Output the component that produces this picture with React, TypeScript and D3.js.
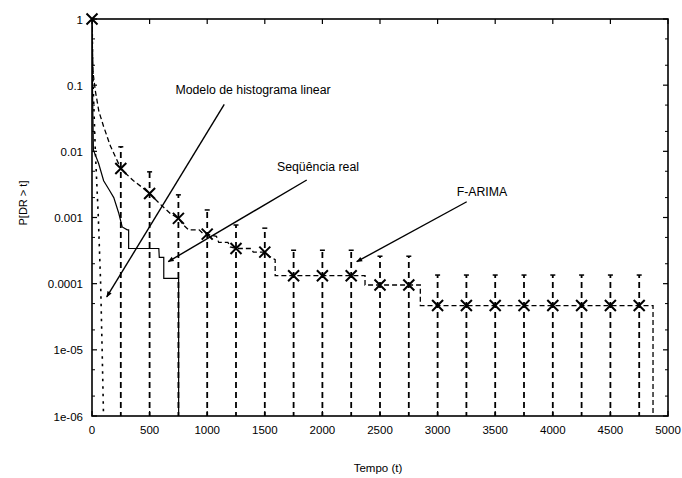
import React from "react";
import * as d3 from "d3";

// ---------- data ----------
const xTicks = [0, 500, 1000, 1500, 2000, 2500, 3000, 3500, 4000, 4500, 5000];
const yTicks = [1, 0.1, 0.01, 0.001, 0.0001, 1e-5, 1e-6];
const yTickLabels = ["1", "0.1", "0.01", "0.001", "0.0001", "1e-05", "1e-06"];

// F-ARIMA markers (t, P)
const markerT = [0, 250, 500, 750, 1000, 1250, 1500, 1750, 2000, 2250, 2500, 2750, 3000, 3250, 3500, 3750, 4000, 4250, 4500, 4750];
const markerP = [1, 0.0055, 0.0023, 0.00097, 0.00056, 0.00034, 0.0003, 0.000132, 0.000132, 0.000132, 0.0000955, 0.0000955,
  0.0000467, 0.0000467, 0.0000467, 0.0000467, 0.0000467, 0.0000467, 0.0000467, 0.0000467];

// F-ARIMA error bar upper limits (t = 250 .. 4750)
const errT = [250, 500, 750, 1000, 1250, 1500, 1750, 2000, 2250, 2500, 2750, 3000, 3250, 3500, 3750, 4000, 4250, 4500, 4750];
const errUpper = [0.0117, 0.0049, 0.0022, 0.0013, 0.00077, 0.00069, 0.00032, 0.00032, 0.00032, 0.00026, 0.00026,
  0.000135, 0.000135, 0.000135, 0.000135, 0.000135, 0.000135, 0.000135, 0.000135];

// F-ARIMA curve (dashed)
const farimaT = [0, 3, 10, 30, 60, 100, 160, 200, 250, 300, 360, 430, 500, 590, 680, 750, 800, 840, 930, 960, 1000, 1080, 1100, 1180, 1200, 1250, 1380, 1400, 1500, 1540, 1590, 1590, 2370, 2370, 2850, 2850, 4870, 4870];
const farimaP = [1, 0.4, 0.15, 0.08, 0.04, 0.024, 0.012, 0.0085, 0.0055, 0.0045, 0.0036, 0.0029, 0.0023, 0.0016, 0.00115, 0.00097, 0.00075, 0.00065, 0.00065, 0.00058, 0.00056, 0.00052, 0.00042, 0.00042, 0.00036, 0.00034, 0.00034, 0.0003, 0.0003, 0.00026, 0.00023, 0.000132, 0.000132, 0.0000955, 0.0000955, 0.0000467, 0.0000467, 1e-6];

// Real sequence (solid)
const realT = [0, 4, 12, 57, 101, 150, 189, 233, 262, 306, 318, 318, 580, 584, 623, 623, 752, 752];
const realP = [1, 0.1, 0.0105, 0.0066, 0.0036, 0.0026, 0.002, 0.00115, 0.00072, 0.00065, 0.00065, 0.00034, 0.00034, 0.00025, 0.00025, 0.00012, 0.00012, 1e-6];

// Linear histogram model (dotted)
const histT = [0, 10, 29, 55, 75, 88, 100];
const histP = [1, 0.1, 0.01, 0.001, 0.0001, 1e-5, 1e-6];

// Annotations (data coordinates)
const annText = ["Modelo de histograma linear", "Seqüência real", "F-ARIMA"];
const annTextT = [1398, 1962, 3385];
const annTextP = [0.085, 0.0059, 0.0025];
const arrowFromT = [1148, 1864, 3253];
const arrowFromP = [0.0514, 0.00369, 0.00173];
const arrowToT = [128, 662, 2298];
const arrowToP = [0.000063, 0.000215, 0.000215];

const W = 682;
const H = 478;
const FONT = "'Liberation Sans', Arial, Helvetica, sans-serif";

export default function App() {
  const x = d3.scaleLinear().domain([0, 5000]).range([92, 668]);
  const y = d3.scaleLog().domain([1e-6, 1]).range([416, 19]);
  const [x0, x1] = x.range();
  const [yb, yt] = y.range();

  const line = d3.line<[number, number]>().x((d) => x(d[0])).y((d) => y(d[1]));
  const farima = line(farimaT.map((t, i) => [t, farimaP[i]] as [number, number])) || "";
  const real = line(realT.map((t, i) => [t, realP[i]] as [number, number])) || "";
  const hist = line(histT.map((t, i) => [t, histP[i]] as [number, number])) || "";

  const minorTicks: number[] = [];
  for (let e = -6; e < 0; e++) {
    [2, 5].forEach((m) => minorTicks.push(m * Math.pow(10, e)));
  }

  return (
    <div style={{ position: "absolute", left: 0, top: 0 }}>
      <svg width={W} height={H} viewBox={`0 0 ${W} ${H}`} style={{ display: "block", background: "#fff" }}>
        <defs>
          <clipPath id="plot">
            <rect x={x0} y={yt} width={x1 - x0} height={yb - yt} />
          </clipPath>
          <marker id="ah" viewBox="0 0 10 10" refX="9" refY="5" markerWidth="7" markerHeight="6" orient="auto" markerUnits="userSpaceOnUse">
            <path d="M0,1 L10,5 L0,9 Z" fill="#000" />
          </marker>
        </defs>

        <g clipPath="url(#plot)">
          {/* error bars */}
          {errT.map((t, i) => (
            <g key={"e" + i}>
              <line x1={x(t)} x2={x(t)} y1={yb + 2} y2={y(errUpper[i])} stroke="#000" strokeWidth={1.8} strokeDasharray="6,4" />
              <line x1={x(t) - 2.5} x2={x(t) + 2.5} y1={y(errUpper[i])} y2={y(errUpper[i])} stroke="#000" strokeWidth={1.5} />
            </g>
          ))}
          <path d={hist} fill="none" stroke="#000" strokeWidth={1.6} strokeDasharray="2.5,5" />
          <path d={real} fill="none" stroke="#000" strokeWidth={1.2} />
          <path d={farima} fill="none" stroke="#000" strokeWidth={1.3} strokeDasharray="5,3" />
        </g>

        {/* markers */}
        {markerT.map((t, i) => {
          const cx = x(t);
          const cy = y(markerP[i]);
          const s = 5.5;
          return (
            <path key={"m" + i} d={`M${cx - s},${cy - s}L${cx + s},${cy + s}M${cx - s},${cy + s}L${cx + s},${cy - s}`} stroke="#000" strokeWidth={2} fill="none" />
          );
        })}

        {/* frame */}
        <rect x={x0} y={yt} width={x1 - x0} height={yb - yt} fill="none" stroke="#000" strokeWidth={1.6} />

        {/* x ticks */}
        {xTicks.map((t) => (
          <g key={"xt" + t}>
            <line x1={x(t)} x2={x(t)} y1={yb} y2={yb - 5} stroke="#000" strokeWidth={1.2} />
            <line x1={x(t)} x2={x(t)} y1={yt} y2={yt + 5} stroke="#000" strokeWidth={1.2} />
            <text x={x(t)} y={yb + 18} textAnchor="middle" fontFamily={FONT} fontSize={11.5} fill="#000">{t}</text>
          </g>
        ))}

        {/* y ticks */}
        {yTicks.map((v, i) => (
          <g key={"yt" + i}>
            <line x1={x0} x2={x0 + 5} y1={y(v)} y2={y(v)} stroke="#000" strokeWidth={1.2} />
            <line x1={x1} x2={x1 - 5} y1={y(v)} y2={y(v)} stroke="#000" strokeWidth={1.2} />
            <text x={x0 - 9} y={y(v) + 4.5} textAnchor="end" fontFamily={FONT} fontSize={11.5} fill="#000">{yTickLabels[i]}</text>
          </g>
        ))}
        {minorTicks.map((v, i) => (
          <g key={"ym" + i}>
            <line x1={x0} x2={x0 + 3} y1={y(v)} y2={y(v)} stroke="#000" strokeWidth={1} />
            <line x1={x1} x2={x1 - 3} y1={y(v)} y2={y(v)} stroke="#000" strokeWidth={1} />
          </g>
        ))}

        {/* axis titles */}
        <text x={378} y={472} textAnchor="middle" fontFamily={FONT} fontSize={11.5} fill="#000">Tempo (t)</text>
        <text transform={`translate(27,203) rotate(-90)`} textAnchor="middle" fontFamily={FONT} fontSize={11} fill="#000">P[DR &gt; t]</text>

        {/* annotations */}
        {annText.map((s, i) => (
          <g key={"a" + i}>
            <text x={x(annTextT[i])} y={y(annTextP[i]) + 4.5} textAnchor="middle" fontFamily={FONT} fontSize={12.3} fill="#000">{s}</text>
            <line x1={x(arrowFromT[i])} y1={y(arrowFromP[i])} x2={x(arrowToT[i])} y2={y(arrowToP[i])} stroke="#000" strokeWidth={1.4} markerEnd="url(#ah)" />
          </g>
        ))}
      </svg>
    </div>
  );
}
